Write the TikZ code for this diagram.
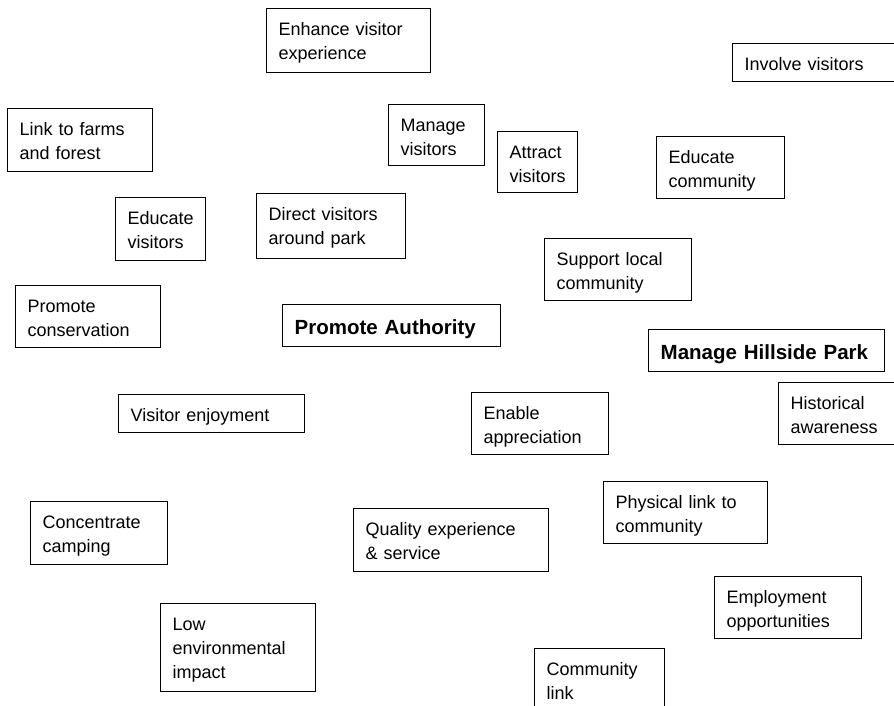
\documentclass[tikz,border=0pt]{standalone}
\usepackage{fontspec}
\setmainfont{Liberation Sans}
\usetikzlibrary{positioning}

\begin{document}
\begin{tikzpicture}[x=1pt, y=-1pt,
    box/.style={draw, line width=1.4pt, anchor=north west, align=left,
        inner xsep=12pt, inner ysep=11pt, text height=16pt,
        font=\fontsize{18}{24}\selectfont},
    title/.style={box, inner ysep=10pt, text height=20pt, text depth=2pt,
        font=\fontsize{20.5}{26}\bfseries\selectfont}]
    \useasboundingbox (0,0) rectangle (894,706);

    % Top row
    \node[box, text width=140pt, text depth=26pt] (enhance) at (266,8) {Enhance visitor\\experience};
    \node[box, text width=156pt, text depth=0pt] (involve) at (732,43) {Involve visitors};
    \node[box, text width=121pt, text depth=25pt] (farms) at (7,108) {Link to farms\\and forest};
    \node[box, text width=72pt, text depth=23pt] (manage) at (388,104) {Manage\\visitors};
    \node[box, text width=56pt, text depth=23pt] (attract) at (497,131) {Attract\\visitors};
    \node[box, text width=104pt, text depth=24pt] (educom) at (656,136) {Educate\\community};

    % Second row
    \node[box, text width=66pt, text depth=25pt] (eduvis) at (115,197) {Educate\\visitors};
    \node[box, text width=125pt, text depth=27pt] (direct) at (256,193) {Direct visitors\\around park};
    \node[box, text width=123pt, text depth=24pt] (support) at (544,238) {Support local\\community};
    \node[box, text width=121pt, text depth=24pt] (conserv) at (15,285) {Promote\\conservation};

    % Main objectives
    \node[title, text width=194pt] (authority) at (282,304) {Promote Authority};
    \node[title, text width=212pt] (hillside) at (648,329) {Manage Hillside Park};

    % Middle row
    \node[box, text width=162pt, text depth=0pt] (enjoy) at (118,394) {Visitor enjoyment};
    \node[box, text width=113pt, text depth=24pt] (enable) at (471,392) {Enable\\appreciation};
    \node[box, text width=106pt, text depth=24pt] (historic) at (778,382) {Historical\\awareness};

    % Lower rows
    \node[box, text width=113pt, text depth=25pt] (camping) at (30,501) {Concentrate\\camping};
    \node[box, text width=171pt, text depth=25pt] (quality) at (353,508) {Quality experience\\\& service};
    \node[box, text width=140pt, text depth=24pt] (physical) at (603,481) {Physical link to\\community};
    \node[box, text width=123pt, text depth=24pt] (employ) at (714,576) {Employment\\opportunities};
    \node[box, text width=131pt, text depth=50pt] (lowenv) at (160,603) {Low\\environmental\\impact};
    \node[box, text width=106pt, text depth=32pt] (comlink) at (534,648) {Community\\link};
\end{tikzpicture}
\end{document}
